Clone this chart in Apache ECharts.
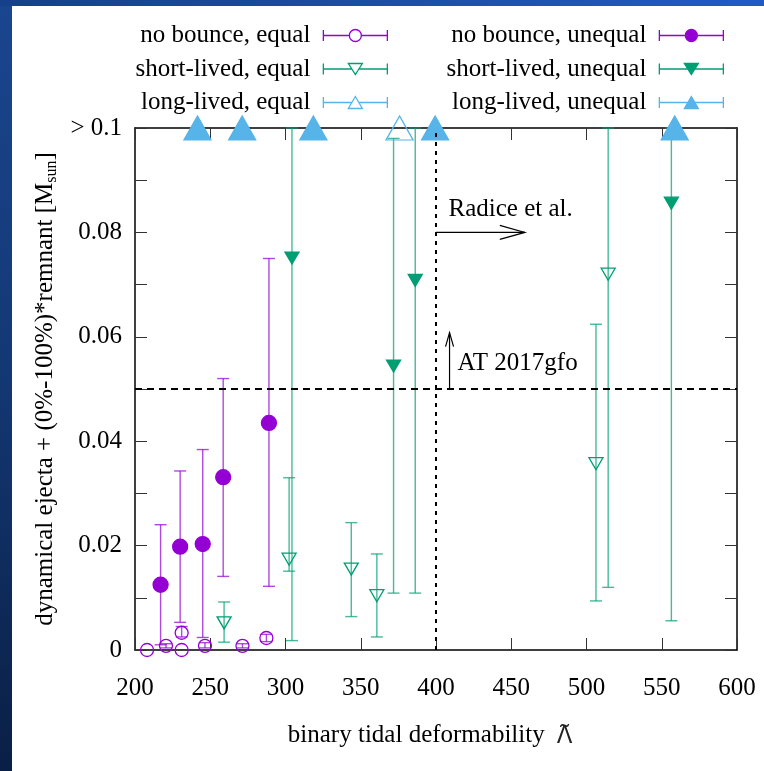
<!DOCTYPE html>
<html><head><meta charset="utf-8">
<script src="https://cdn.jsdelivr.net/npm/echarts@6/dist/echarts.min.js"></script>
<style>
html,body{margin:0;padding:0;width:764px;height:771px;overflow:hidden}
body{position:relative;background:linear-gradient(to bottom,#1a4690 0%,#133772 50%,#0a1f45 100%)}
#band{position:absolute;left:0;top:0;width:764px;height:6px;background:linear-gradient(to right,#17408a,#1f5cc2)}
#panel{position:absolute;left:12px;top:6px;width:752px;height:765px;background:#fff}
#chart{position:absolute;left:0;top:0;width:764px;height:771px}
</style></head>
<body><div id="band"></div><div id="panel"></div><div id="chart"></div>
<script>
// ---------------- data ----------------
const noBounceEqualLambda = [208, 220.6, 231, 231, 246.5, 271.4, 287.3];
const noBounceEqualMass   = [0.0, 0.0008, 0.0033, 0.0, 0.0008, 0.0008, 0.0023];
const noBounceEqualLow    = [0.0, 0.0004, 0.0025, 0.0, 0.0004, 0.0004, 0.0016];
const noBounceEqualHigh   = [0.0, 0.0012, 0.0045, 0.0, 0.0014, 0.0012, 0.0030];

const noBounceUnequalLambda = [217, 230, 245, 258.6, 289];
const noBounceUnequalMass   = [0.0125, 0.0198, 0.0203, 0.0331, 0.0435];
const noBounceUnequalLow    = [0.0010, 0.0053, 0.0024, 0.0141, 0.0122];
const noBounceUnequalHigh   = [0.0240, 0.0343, 0.0384, 0.0520, 0.0750];

const shortEqualLambda = [259.2, 302.4, 343.7, 360.7, 506.3, 514.4];
const shortEqualMass   = [0.0052, 0.0174, 0.0155, 0.0104, 0.0357, 0.0720];
const shortEqualLow    = [0.0015, 0.0151, 0.0064, 0.0025, 0.0094, 0.0120];
const shortEqualHigh   = [0.0092, 0.0330, 0.0244, 0.0184, 0.0624, 0.1000];

const shortUnequalLambda = [304.3, 371.8, 386.2, 556.4];
const shortUnequalMass   = [0.0751, 0.0544, 0.0708, 0.0856];
const shortUnequalLow    = [0.0018, 0.0109, 0.0109, 0.0056];
const shortUnequalHigh   = [0.1000, 0.0980, 0.1000, 0.1000];

const longEqualLambda = [375.8];
const longEqualMass   = [0.1];
const longUnequalLambda = [241.5, 271.2, 318.5, 399.4, 558.6];
const longUnequalMass   = [0.1, 0.1, 0.1, 0.1, 0.1];

const seriesNames = ['no bounce, equal', 'no bounce, unequal', 'short-lived, equal',
  'short-lived, unequal', 'long-lived, equal', 'long-lived, unequal'];

const atMassThreshold = 0.05;     // AT 2017gfo
const radiceLambdaThreshold = 400; // Radice et al.
const arrowStart = [[400, 0.08], [409, 0.05]];
const arrowEnd   = [[459, 0.08], [409, 0.0608]];
const noteText   = ['Radice et al.', 'AT 2017gfo'];
const notePos    = [[408.3, 0.0844], [414.3, 0.0549]];

const xMin = 200, xMax = 600, xStep = 50;
const yMin = 0, yMax = 0.1, yStep = 0.01;

// ---------------- style ----------------
const FONT = 'Liberation Serif';
const FS = 25;
const PURPLE = '#9400D3', GREEN = '#009E73', BLUE = '#56B4E9';
const NONE = 'rgba(255,255,255,0)';

function zip(xs, ys) { return xs.map((x, i) => [x, ys[i]]); }

function errorBars(name, color, xs, lows, highs) {
  return {
    type: 'custom', name: name + ' (err)', silent: true, z: 2, clip: false,
    dimensions: ['x', 'lo', 'hi'],
    encode: { x: 0, y: [1, 2] },
    data: xs.map((x, i) => [x, lows[i], highs[i]]),
    renderItem(params, api) {
      const x = api.value(0), lo = api.value(1), hi = api.value(2);
      if (!(hi > lo)) return null;
      const a = api.coord([x, lo]), b = api.coord([x, hi]);
      const hw = 6;
      const st = { stroke: color, lineWidth: 1.4, opacity: 0.72 };
      return { type: 'group', children: [
        { type: 'line', shape: { x1: a[0], y1: a[1], x2: b[0], y2: b[1] }, style: st },
        { type: 'line', shape: { x1: a[0] - hw, y1: a[1], x2: a[0] + hw, y2: a[1] }, style: st },
        { type: 'line', shape: { x1: b[0] - hw, y1: b[1], x2: b[0] + hw, y2: b[1] }, style: st }
      ]};
    }
  };
}

function markers(name, xs, ys, symbol, size, rotate, fill, stroke) {
  return {
    type: 'scatter', name, z: 4, clip: false, symbol, symbolSize: size, symbolRotate: rotate,
    data: zip(xs, ys),
    itemStyle: { color: fill, borderColor: stroke, borderWidth: 1.3, opacity: 1 },
    emphasis: { disabled: true }
  };
}

// legend icons (64 x 14 box)
const CAPS = 'M0,1.5 L0,12.5 M64,1.5 L64,12.5 ';
const iconCircleOpen  = 'path://' + CAPS + 'M0,7 L26,7 M38,7 L64,7 M26,7 A6,6 0 1,1 38,7 A6,6 0 1,1 26,7 Z';
const iconCircleFull  = 'path://' + CAPS + 'M0,7 L64,7 M26,7 A6,6 0 1,1 38,7 A6,6 0 1,1 26,7 Z';
const iconDownOpen    = 'path://' + CAPS + 'M0,7 L28.4,7 M35.6,7 L64,7 M25,1.5 L39,1.5 L32,12.5 Z';
const iconDownFull    = 'path://' + CAPS + 'M0,7 L64,7 M25,1.5 L39,1.5 L32,12.5 Z';
const iconUpOpen      = 'path://' + CAPS + 'M0,7 L29,7 M35,7 L64,7 M32,1 L39,13 L25,13 Z';
const iconUpFull      = 'path://' + CAPS + 'M0,7 L64,7 M32,1 L39,13 L25,13 Z';

function legendItem(name, icon, color, filled) {
  return { name, icon, itemStyle: { color: filled ? color : NONE, borderColor: color, borderWidth: 1.3 } };
}
const legendCommon = {
  orient: 'vertical', align: 'right', top: 18, itemWidth: 64, itemHeight: 14, itemGap: 8.5,
  selectedMode: false,
  textStyle: { fontFamily: FONT, fontSize: FS, color: '#000', padding: [0, 8, 0, 0] }
};

const axisLineStyle = { color: '#000', width: 1.5 };
const tickStyle = { color: '#333', width: 1 };

function yLabel(v) {
  const h = Math.round(v * 100);
  if (h === 0) return '0';
  if (h === 10) return '> 0.1';
  if (h % 2 !== 0) return '';
  return (h / 100).toFixed(2);
}

const option = {
  animation: false,
  backgroundColor: 'transparent',
  grid: { left: 135, right: 27, top: 128, bottom: 121, outerBoundsMode: 'none' },
  legend: [
    Object.assign({}, legendCommon, { right: 371, data: [
      legendItem(seriesNames[0], iconCircleOpen, PURPLE, false),
      legendItem(seriesNames[2], iconDownOpen, GREEN, false),
      legendItem(seriesNames[4], iconUpOpen, BLUE, false)
    ]}),
    Object.assign({}, legendCommon, { right: 35, data: [
      legendItem(seriesNames[1], iconCircleFull, PURPLE, true),
      legendItem(seriesNames[3], iconDownFull, GREEN, true),
      legendItem(seriesNames[5], iconUpFull, BLUE, true)
    ]})
  ],
  xAxis: [
    { type: 'value', min: xMin, max: xMax, interval: xStep, position: 'bottom',
      axisLine: { show: true, onZero: false, lineStyle: axisLineStyle },
      axisTick: { show: true, inside: true, length: 12, lineStyle: tickStyle },
      axisLabel: { margin: 26, fontFamily: FONT, fontSize: FS, color: '#000' },
      splitLine: { show: false },
      name: 'binary tidal deformability {lam|Λ\u0303}', nameLocation: 'middle', nameGap: 73,
      nameTextStyle: { fontFamily: FONT, fontSize: FS, color: '#000', padding: [0, 12, 0, 0],
        rich: { lam: { fontFamily: 'Noto Sans', fontSize: 25, color: '#222', padding: [0, 0, 0, 6] } } } },
    { type: 'value', min: xMin, max: xMax, interval: xStep, position: 'top',
      axisLine: { show: true, onZero: false, lineStyle: axisLineStyle },
      axisTick: { show: true, inside: true, length: 12, lineStyle: tickStyle },
      axisLabel: { show: false }, splitLine: { show: false } }
  ],
  yAxis: [
    { type: 'value', min: yMin, max: yMax, interval: yStep, position: 'left',
      axisLine: { show: true, onZero: false, lineStyle: axisLineStyle },
      axisTick: { show: true, inside: true, length: 12, lineStyle: tickStyle },
      axisLabel: { margin: 13, interval: 0, fontFamily: FONT, fontSize: FS, color: '#000', formatter: yLabel },
      splitLine: { show: false },
      name: 'dynamical ejecta + (0%-100%)*remnant [M{sub|sun}]', nameLocation: 'middle', nameGap: 75,
      nameTextStyle: { fontFamily: FONT, fontSize: 25, color: '#000',
        rich: { sub: { fontFamily: FONT, fontSize: 16, color: '#000', verticalAlign: 'bottom', padding: [13, 0, 0, 0] } } } },
    { type: 'value', min: yMin, max: yMax, interval: yStep, position: 'right',
      axisLine: { show: true, onZero: false, lineStyle: axisLineStyle },
      axisTick: { show: true, inside: true, length: 12, lineStyle: tickStyle },
      axisLabel: { show: false }, splitLine: { show: false } }
  ],
  series: [
    // reference lines
    { type: 'line', name: 'refs', data: [], silent: true, z: 1,
      markLine: { silent: true, symbol: 'none', label: { show: false }, animation: false,
        data: [
          { yAxis: atMassThreshold, lineStyle: { color: '#000', width: 2, type: [7, 5] } },
          { xAxis: radiceLambdaThreshold, lineStyle: { color: '#000', width: 2, type: [4, 5] } }
        ] } },
    // arrows
    { type: 'custom', name: 'arrows', silent: true, z: 3, clip: false,
      data: arrowStart.map((s, i) => [s[0], s[1], arrowEnd[i][0], arrowEnd[i][1]]),
      encode: { x: [0, 2], y: [1, 3] },
      renderItem(params, api) {
        const a = api.coord([api.value(0), api.value(1)]);
        const b = api.coord([api.value(2), api.value(3)]);
        const dx = b[0] - a[0], dy = b[1] - a[1], L = Math.hypot(dx, dy);
        const ux = dx / L, uy = dy / L;
        const hl = params.dataIndex === 0 ? 25 : 14;
        const hw = params.dataIndex === 0 ? 7 : 4;
        const st = { stroke: '#000', lineWidth: 1.2, fill: null };
        return { type: 'group', children: [
          { type: 'line', shape: { x1: a[0], y1: a[1], x2: b[0], y2: b[1] }, style: st },
          { type: 'polyline', shape: { points: [
            [b[0] - ux * hl - uy * hw, b[1] - uy * hl + ux * hw],
            [b[0], b[1]],
            [b[0] - ux * hl + uy * hw, b[1] - uy * hl - ux * hw]] }, style: st }
        ]};
      } },
    // notes
    { type: 'custom', name: 'notes', silent: true, z: 3, clip: false,
      data: notePos, encode: { x: 0, y: 1 },
      renderItem(params, api) {
        const p = api.coord([api.value(0), api.value(1)]);
        return { type: 'text', x: p[0], y: p[1], style: { text: noteText[params.dataIndex],
          fontFamily: FONT, fontSize: FS, fill: '#000', align: 'left', verticalAlign: 'middle' } };
      } },
    errorBars(seriesNames[0], PURPLE, noBounceEqualLambda, noBounceEqualLow, noBounceEqualHigh),
    errorBars(seriesNames[1], PURPLE, noBounceUnequalLambda, noBounceUnequalLow, noBounceUnequalHigh),
    errorBars(seriesNames[2], GREEN, shortEqualLambda, shortEqualLow, shortEqualHigh),
    errorBars(seriesNames[3], GREEN, shortUnequalLambda, shortUnequalLow, shortUnequalHigh),
    markers(seriesNames[0], noBounceEqualLambda, noBounceEqualMass, 'circle', 13, 0, NONE, PURPLE),
    markers(seriesNames[1], noBounceUnequalLambda, noBounceUnequalMass, 'circle', 15, 0, PURPLE, PURPLE),
    markers(seriesNames[2], shortEqualLambda, shortEqualMass, 'triangle', [14, 12], 180, NONE, GREEN),
    markers(seriesNames[3], shortUnequalLambda, shortUnequalMass, 'triangle', [14, 12], 180, GREEN, GREEN),
    markers(seriesNames[4], longEqualLambda, longEqualMass, 'triangle', [27, 24], 0, NONE, BLUE),
    markers(seriesNames[5], longUnequalLambda, longUnequalMass, 'triangle', [27, 24], 0, BLUE, BLUE)
  ]
};

const chart = echarts.init(document.getElementById('chart'), null, { renderer: 'canvas' });
chart.setOption(option);
</script></body></html>
